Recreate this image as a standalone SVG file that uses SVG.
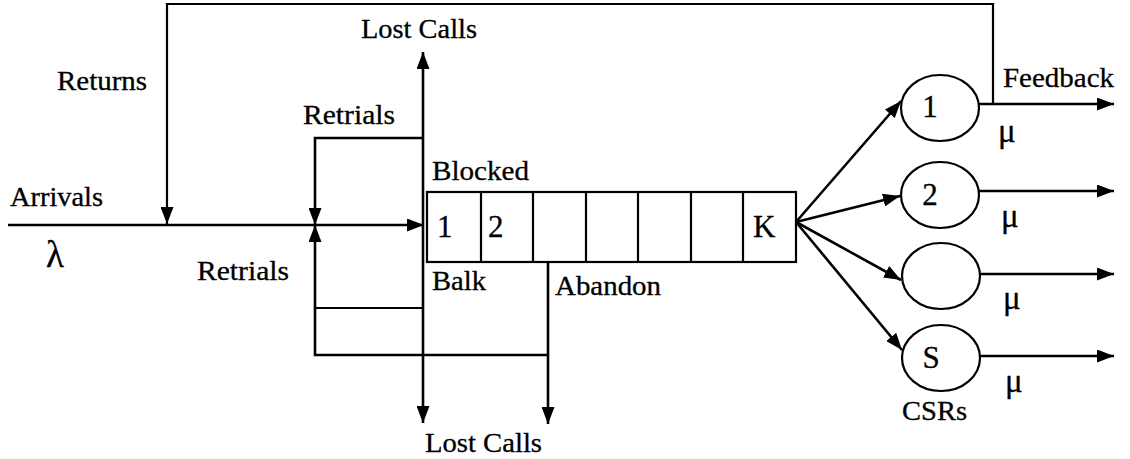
<svg xmlns="http://www.w3.org/2000/svg" width="1130" height="459" viewBox="0 0 1130 459">
  <defs>
    <marker id="ah" viewBox="0 0 17 13" refX="17" refY="6.5" markerWidth="17" markerHeight="13" markerUnits="userSpaceOnUse" orient="auto">
      <path d="M0,0 L17,6.5 L0,13 z" fill="#000"/>
    </marker>
    <style>
      text { fill: #000; stroke: #000; stroke-width: 0.3px; }
      .wire { fill: none; stroke: #000; stroke-width: 2.6; }
      .thin { fill: none; stroke: #000; stroke-width: 2.2; }
      .arr { marker-end: url(#ah); }
      .cell { fill: #fff; stroke: #000; stroke-width: 2.2; }
      .srv { fill: #fff; stroke: #000; stroke-width: 2.2; }
    </style>
  </defs>
  <rect width="1130" height="459" fill="#fff"/>

  <!-- flow lines -->
  <g id="connectors">
    <!-- arrivals into the queue -->
    <path class="wire arr" d="M8,225 H424"/>
    <!-- returns loop from server 1 output back to arrivals -->
    <path class="thin arr" d="M993,104 V4 H167 V224"/>
    <!-- upper retrials -->
    <path class="wire arr" d="M423,138 H315 V225"/>
    <!-- lower retrials -->
    <path class="wire arr" d="M548,355 H315 V225"/>
    <path class="thin" d="M315,308 H423"/>
    <!-- blocked / balk split to lost calls -->
    <path class="wire arr" d="M423,225 V52"/>
    <path class="wire arr" d="M423,225 V423"/>
    <!-- abandon -->
    <path class="wire arr" d="M548,262 V424"/>
    <!-- dispatch to servers -->
    <path class="wire arr" d="M796,222 L901,101"/>
    <path class="wire arr" d="M796,222 L900,196"/>
    <path class="wire arr" d="M796,222 L901,280"/>
    <path class="wire arr" d="M796,222 L902,350"/>
    <!-- departures -->
    <path class="wire arr" d="M979,104 H1114"/>
    <path class="wire arr" d="M979,191 H1114"/>
    <path class="wire arr" d="M980,274 H1114"/>
    <path class="wire arr" d="M980,356 H1114"/>
  </g>

  <!-- waiting room -->
  <g id="queue">
    <rect class="cell" x="427" y="192" width="369" height="70"/>
    <path class="thin" d="M481,192 V262 M533,192 V262 M586,192 V262 M638,192 V262 M691,192 V262 M743,192 V262"/>
    <text font-family="Liberation Serif" font-size="31" x="437" y="237">1</text>
    <text font-family="Liberation Serif" font-size="31" x="488" y="237">2</text>
    <text font-family="Liberation Serif" font-size="31" x="753" y="237">K</text>
  </g>

  <!-- servers -->
  <g id="server-1">
    <ellipse class="srv" cx="940" cy="108" rx="39" ry="33"/>
    <text font-family="Liberation Serif" font-size="31" text-anchor="middle" x="930" y="117">1</text>
  </g>
  <g id="server-2">
    <ellipse class="srv" cx="940" cy="195" rx="39" ry="33"/>
    <text font-family="Liberation Serif" font-size="31" text-anchor="middle" x="930" y="205">2</text>
  </g>
  <g id="server-3">
    <ellipse class="srv" cx="941" cy="276" rx="39" ry="33"/>
  </g>
  <g id="server-s">
    <ellipse class="srv" cx="941" cy="358" rx="39" ry="33"/>
    <text font-family="Liberation Serif" font-size="31" text-anchor="middle" x="931" y="368">S</text>
  </g>

  <!-- labels -->
  <g id="labels">
    <text font-family="Liberation Serif" font-size="27" x="57" y="90" textLength="90" lengthAdjust="spacingAndGlyphs">Returns</text>
    <text font-family="Liberation Serif" font-size="27" x="10" y="206" textLength="93" lengthAdjust="spacingAndGlyphs">Arrivals</text>
    <text font-family="Liberation Serif" font-size="37" x="46" y="267">λ</text>
    <text font-family="Liberation Serif" font-size="27" x="361" y="38" textLength="116" lengthAdjust="spacingAndGlyphs">Lost Calls</text>
    <text font-family="Liberation Serif" font-size="27" x="303" y="124" textLength="92" lengthAdjust="spacingAndGlyphs">Retrials</text>
    <text font-family="Liberation Serif" font-size="27" x="432" y="180" textLength="97" lengthAdjust="spacingAndGlyphs">Blocked</text>
    <text font-family="Liberation Serif" font-size="27" x="197" y="280" textLength="92" lengthAdjust="spacingAndGlyphs">Retrials</text>
    <text font-family="Liberation Serif" font-size="27" x="432" y="290" textLength="54" lengthAdjust="spacingAndGlyphs">Balk</text>
    <text font-family="Liberation Serif" font-size="27" x="555" y="295" textLength="106" lengthAdjust="spacingAndGlyphs">Abandon</text>
    <text font-family="Liberation Serif" font-size="27" x="425" y="452" textLength="117" lengthAdjust="spacingAndGlyphs">Lost Calls</text>
    <text font-family="Liberation Serif" font-size="27" x="1003" y="87" textLength="111" lengthAdjust="spacingAndGlyphs">Feedback</text>
    <text font-family="Liberation Serif" font-size="33" x="998" y="142">μ</text>
    <text font-family="Liberation Serif" font-size="33" x="1001" y="227">μ</text>
    <text font-family="Liberation Serif" font-size="33" x="1003" y="309">μ</text>
    <text font-family="Liberation Serif" font-size="33" x="1005" y="392">μ</text>
    <text font-family="Liberation Serif" font-size="27" x="902" y="420" textLength="65" lengthAdjust="spacingAndGlyphs">CSRs</text>
  </g>
</svg>
